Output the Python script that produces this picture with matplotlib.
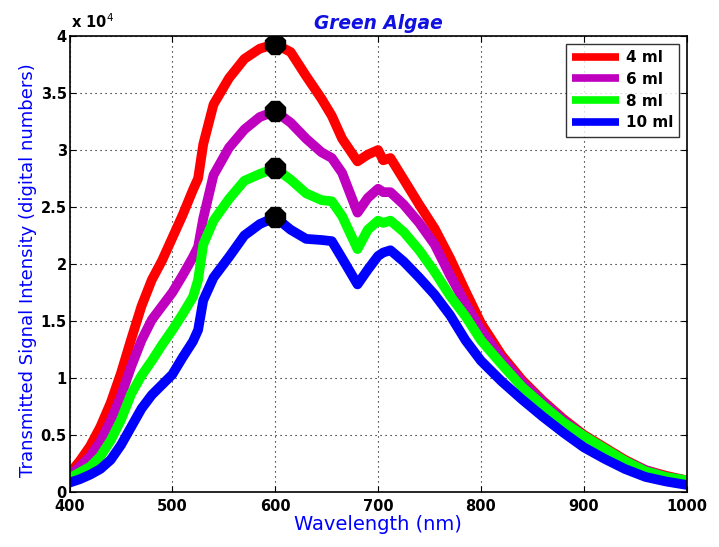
import matplotlib
matplotlib.use("Agg")
import matplotlib.pyplot as plt

SCALE = 1e4
wavelength = [400, 410, 420, 430, 440, 450, 460, 470, 480, 490, 500, 510, 520, 525, 530, 540,
              555, 570, 585, 600, 615, 630, 645, 655, 665, 680, 690, 700, 705, 712, 725, 740,
              755, 770, 785, 800, 820, 840, 860, 880, 900, 920, 940, 960, 980, 1000]

ml4 = [0.16, 0.27, 0.40, 0.57, 0.78, 1.04, 1.34, 1.63, 1.86, 2.03, 2.23, 2.43, 2.65, 2.75, 3.05, 3.40,
       3.63, 3.80, 3.89, 3.93, 3.86, 3.65, 3.45, 3.30, 3.10, 2.90, 2.96, 3.00, 2.91, 2.93, 2.74, 2.52,
       2.31, 2.05, 1.76, 1.48, 1.20, 0.98, 0.80, 0.64, 0.50, 0.39, 0.28, 0.19, 0.14, 0.10]
ml6 = [0.14, 0.22, 0.31, 0.44, 0.62, 0.84, 1.10, 1.33, 1.51, 1.63, 1.75, 1.90, 2.06, 2.15, 2.40, 2.78,
       3.02, 3.18, 3.29, 3.34, 3.24, 3.10, 2.98, 2.93, 2.80, 2.45, 2.58, 2.66, 2.63, 2.63, 2.52, 2.36,
       2.17, 1.90, 1.65, 1.42, 1.17, 0.96, 0.79, 0.63, 0.49, 0.38, 0.27, 0.19, 0.13, 0.10]
ml8 = [0.12, 0.17, 0.22, 0.31, 0.45, 0.63, 0.86, 1.02, 1.15, 1.29, 1.42, 1.56, 1.71, 1.86, 2.17, 2.38,
       2.57, 2.73, 2.79, 2.84, 2.74, 2.62, 2.56, 2.55, 2.42, 2.13, 2.30, 2.38, 2.36, 2.38, 2.28, 2.12,
       1.93, 1.72, 1.54, 1.33, 1.12, 0.92, 0.76, 0.61, 0.49, 0.38, 0.27, 0.18, 0.13, 0.10]
ml10 = [0.08, 0.11, 0.15, 0.20, 0.28, 0.41, 0.57, 0.73, 0.85, 0.94, 1.03, 1.18, 1.32, 1.42, 1.68, 1.88,
        2.06, 2.25, 2.35, 2.41, 2.30, 2.22, 2.21, 2.20, 2.05, 1.82, 1.95, 2.07, 2.10, 2.12, 2.02, 1.88,
        1.73, 1.55, 1.33, 1.15, 0.97, 0.81, 0.66, 0.52, 0.39, 0.29, 0.20, 0.13, 0.09, 0.06]

labels = ["4 ml", "6 ml", "8 ml", "10 ml"]
colors = ["#ff0000", "#bf00bf", "#00ff00", "#0000ff"]
series = [ml4, ml6, ml8, ml10]
peak_wl = 600

xticks = [400, 500, 600, 700, 800, 900, 1000]
yticks = [0, 0.5, 1, 1.5, 2, 2.5, 3, 3.5, 4]
ytick_labels = ["0", "0.5", "1", "1.5", "2", "2.5", "3", "3.5", "4"]

plt.rcParams['font.family'] = ['DejaVu Sans']

fig = plt.figure(figsize=(7.19, 5.47), dpi=100)
ax = fig.add_axes([0.0967, 0.101, 0.955 - 0.0967, 0.934 - 0.101])

for vals, lab, col in zip(series, labels, colors):
    y = [v * SCALE for v in vals]
    ax.plot(wavelength, y, color=col, lw=7, label=lab, solid_capstyle='round', solid_joinstyle='round')

for vals in series:
    i = wavelength.index(peak_wl)
    ax.plot([peak_wl], [vals[i] * SCALE], marker='8', color='black', ms=15, zorder=5, linestyle='none')

ax.set_xlim(400, 1000)
ax.set_ylim(0, 4 * SCALE)
ax.set_xticks(xticks)
ax.set_xticklabels([str(t) for t in xticks], fontweight='bold', fontsize=10.5)
ax.set_yticks([t * SCALE for t in yticks])
ax.set_yticklabels(ytick_labels, fontweight='bold', fontsize=10.5)
ax.tick_params(direction='in', top=True, right=True, length=4, width=0.8)
ax.tick_params(axis='x', pad=5)
ax.tick_params(axis='y', pad=2)
ax.grid(True, linestyle=(0, (1, 3.5)), color='black', linewidth=0.8)
for s in ax.spines.values():
    s.set_linewidth(1.2)

ax.text(0.002, 1.012, r"x 10$^{4}$", transform=ax.transAxes, fontsize=10.5, fontweight='bold',
        ha='left', va='bottom')
ax.set_title("Green Algae", color='#1010e0', fontstyle='italic', fontweight='bold', fontsize=13.4, pad=5)
ax.set_xlabel("Wavelength (nm)", color='#0000ff', fontsize=14, labelpad=1)
ax.set_ylabel("Transmitted Signal Intensity (digital numbers)", color='#0000ff', fontsize=13)
ax.yaxis.set_label_coords(-0.052, 0.487)

leg = ax.legend(loc='upper right', prop={'weight': 'bold', 'size': 11}, handlelength=3.07,
                frameon=True, fancybox=False, edgecolor='black', borderaxespad=0.5,
                labelspacing=0.45, handletextpad=0.45, borderpad=0.4)
leg.get_frame().set_linewidth(1.0)
for h in leg.get_lines():
    h.set_linewidth(5.5)
    h.set_solid_capstyle('butt')

fig.savefig("out.png", dpi=100)
